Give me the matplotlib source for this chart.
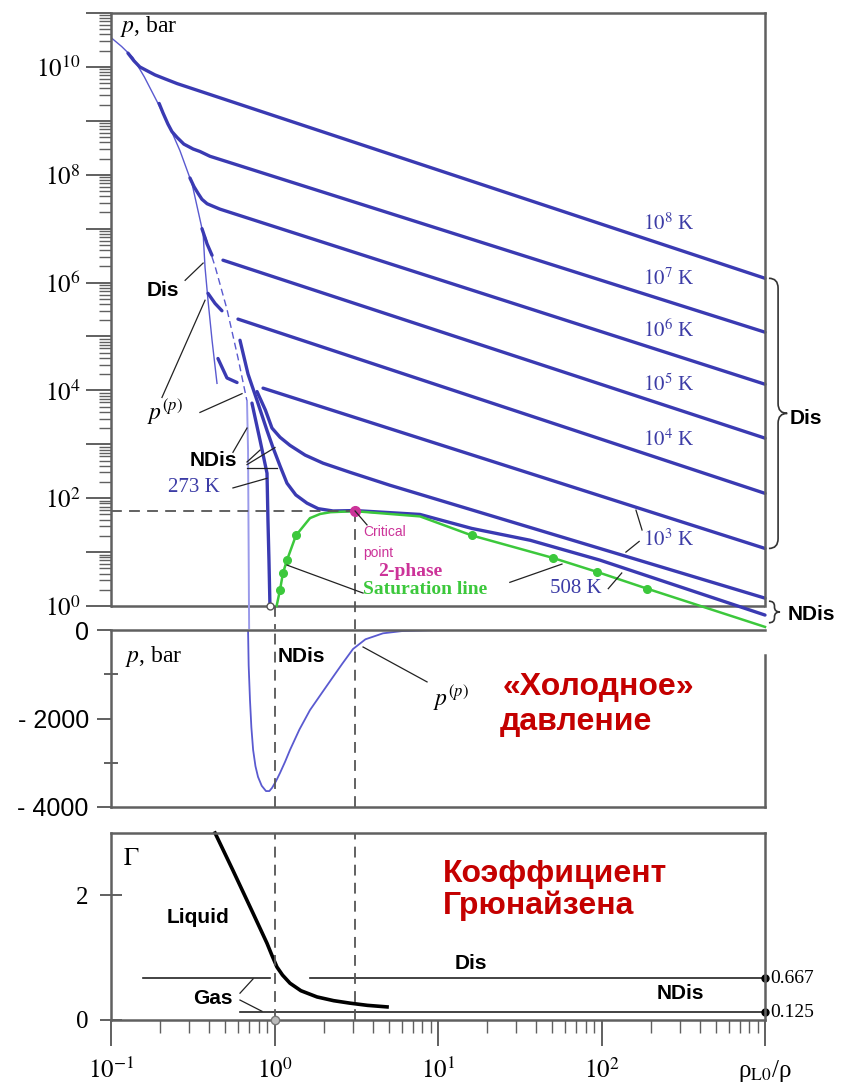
import numpy as np
import matplotlib
matplotlib.use("Agg")
import matplotlib.pyplot as plt
from matplotlib.path import Path
from matplotlib.patches import PathPatch
import matplotlib.transforms as mtransforms
from matplotlib.ticker import FixedLocator, FuncFormatter, NullFormatter

plt.rcParams["mathtext.fontset"] = "stix"
plt.rcParams["font.family"] = ["Liberation Sans", "DejaVu Sans"]
SERIF = ["Liberation Serif", "DejaVu Serif"]

BLUE = "#3a3ab2"      # isotherms
THIN = "#5a5ad0"      # cold pressure curve
LIGHT = "#9a9aea"
GREEN = "#3cc83c"
MAGENTA = "#cc3399"
RED = "#c40000"
AXC = "#606060"
TXTBLUE = "#3c3ca6"

# ---- values: v = rho_L0/rho, p in bar ----
# isotherms (nan = gap in the drawn line)
iso_1e8_v = [0.127, 0.138, 0.150, 0.166, 0.186, 0.214, 0.254, 1000]
iso_1e8_p = [1.8e10, 1.3e10, 1.0e10, 8.5e9, 7.1e9, 6.0e9, 4.9e9, 1.2e6]
iso_1e7_v = [0.197, 0.208, 0.223, 0.236, 0.254, 0.279, 0.318, 0.350, 0.403, 1000]
iso_1e7_p = [2.1e9, 1.4e9, 8.7e8, 6.3e8, 4.9e8, 3.7e8, 3.0e8, 2.7e8, 2.2e8, 1.2e5]
iso_1e6_v = [0.304, 0.322, 0.341, 0.360, 0.387, 0.421, 0.464, 1000]
iso_1e6_p = [8.7e7, 6.0e7, 4.5e7, 3.5e7, 2.9e7, 2.6e7, 2.3e7, 1.3e4]
iso_1e5_v = [0.360, 0.387, 0.415, np.nan, 0.484, 1000]
iso_1e5_p = [1.0e7, 5.2e6, 3.2e6, np.nan, 2.6e6, 1.3e3]
iso_1e4_v = [0.392, 0.433, 0.477, np.nan, 0.598, 1000]
iso_1e4_p = [6.3e5, 4.1e5, 3.0e5, np.nan, 2.1e5, 123]
iso_1e3_v = [0.451, 0.512, 0.590, np.nan, 0.851, 1000]
iso_1e3_p = [3.9e4, 1.7e4, 1.4e4, np.nan, 1.1e4, 11.7]
iso_1e3n_v = [0.782, 0.880, 0.965, 1.081, 1.244, 1.54, 1.98, 2.90, 5.08, 1000]
iso_1e3n_p = [9.5e3, 4.3e3, 2.0e3, 1.35e3, 955, 630, 447, 302, 174, 1.4]
iso_508_v = [0.615, 0.689, 0.782, 0.900, 0.979, 1.08, 1.192, 1.35, 1.58, 1.85, 2.28, 3.11,
             7.76, 16.1, 36.6, 97.9, 1000]
iso_508_p = [8.5e4, 2.0e4, 6.5e3, 1.8e3, 870, 400, 190, 115, 81, 64, 58, 59,
             50, 27.5, 16.6, 7.1, 0.68]
iso_273_v = [0.728, 0.815, 0.900, 0.912, 0.925, 0.938]
iso_273_p = [5.8e3, 1.2e3, 290, 39, 7.1, 1.0]

# saturation line and its points
sat_v = [1.030, 1.081, 1.127, 1.192, 1.353, 1.648, 1.9, 2.2, 3.11, 7.76, 16.1, 50.5, 93.8, 190, 1000]
sat_p = [1.0, 2.0, 4.1, 7.1, 20.4, 42.7, 51, 55, 57.5, 46, 20.4, 7.8, 4.3, 2.1, 0.41]
sat_pts_v = [1.081, 1.127, 1.192, 1.353, 16.1, 50.5, 93.8, 190]
sat_pts_p = [2.0, 4.1, 7.1, 20.4, 20.4, 7.8, 4.3, 2.1]
crit_v, crit_p = 3.11, 58

# cold pressure p(c): dissociated branch, non-dissociated branch
cold_dis_v = [0.100, 0.116, 0.136, 0.160, 0.191, 0.225, 0.264, 0.313, 0.366, 0.376, 0.392, 0.415, 0.445]
cold_dis_p = [3.5e10, 2.4e10, 1.5e10, 6.5e9, 2.3e9, 8.5e8, 2.8e8, 6.8e7, 8.1e6, 1.9e6, 4.7e5, 8.5e4, 1.35e4]
cold_nd_v = [0.376, 0.433, 0.512, 0.598, 0.679]
cold_nd_p = [7.4e6, 2.0e6, 3.2e5, 4.0e4, 6.3e3]
cold_nd2_v = [0.679, 0.689, 0.698, 0.700]
cold_nd2_p = [6.3e3, 780, 1.0, 0.3]

# cold pressure on a linear scale
cold_lin_v = [0.689, 0.695, 0.708, 0.722, 0.740, 0.765, 0.793, 0.835, 0.887, 0.930, 0.965, 1.02,
              1.081, 1.16, 1.244, 1.42, 1.648, 1.95, 2.28, 2.6, 3.02, 3.6, 4.61, 6.0, 9.3, 20, 1000]
cold_lin_p = [0, -800, -1580, -2200, -2710, -3080, -3320, -3520, -3640, -3640, -3570, -3420,
              -3230, -2980, -2710, -2250, -1810, -1420, -1060, -760, -430, -210, -75, -25, -5, 0, 0]

# Grueneisen coefficient
gam_v = [0.433, 0.557, 0.740, 0.900, 0.96, 1.035, 1.12, 1.244, 1.45, 1.82, 2.3, 2.90, 3.7, 4.88]
gam = [3.0, 2.40, 1.71, 1.23, 1.05, 0.85, 0.72, 0.59, 0.47, 0.37, 0.31, 0.27, 0.235, 0.21]
gam_dis = 0.667
gam_ndis = 0.125
gam_dis_v = [[0.157, 0.938], [1.648, 1000]]
gam_ndis_v = [0.615, 1000]

iso_labels = [r"$10^{8}$ K", r"$10^{7}$ K", r"$10^{6}$ K", r"$10^{5}$ K", r"$10^{4}$ K", r"$10^{3}$ K"]
iso_label_p = [1.23e7, 1.17e6, 1.29e5, 1.23e4, 1.17e3, 16.6]

# ---- figure ----
W, H = 846, 1088
fig = plt.figure(figsize=(W / 100, H / 100), dpi=100)


def box(l, t, r, b):
    return [l / W, 1 - b / H, (r - l) / W, (b - t) / H]


ax1 = fig.add_axes(box(111, 13, 765, 629))
ax2 = fig.add_axes(box(111, 630, 765, 807))
ax3 = fig.add_axes(box(111, 833, 765, 1020))

for ax in (ax1, ax2, ax3):
    ax.set_xscale("log")
    ax.set_xlim(0.1, 1000)
    for s in ax.spines.values():
        s.set_color(AXC)
        s.set_linewidth(1.8)
    ax.tick_params(which="both", color=AXC, width=1.4, labelsize=18)
    ax.patch.set_alpha(0)

DASH = dict(color="#555555", lw=1.3, ls=(0, (6, 4)))


def lead(ax, v0, p0, v1, p1):
    ax.plot([v0, v1], [p0, p1], color="#222222", lw=0.9, clip_on=False)


# ---- top panel: isotherms ----
ymin1 = 10 ** -0.426
ax1.set_yscale("log")
ax1.set_ylim(ymin1, 1e11)
ax1.spines["bottom"].set_visible(False)
ax1.spines["left"].set_bounds(1, 1e11)
ax1.spines["right"].set_bounds(1, 1e11)
ax1.yaxis.set_major_locator(FixedLocator([10.0 ** k for k in range(0, 12)]))
ax1.yaxis.set_minor_locator(FixedLocator([m * 10.0 ** k for k in range(0, 11) for m in range(2, 10)]))
ax1.yaxis.set_major_formatter(FuncFormatter(
    lambda v, pos: r"$10^{%d}$" % round(np.log10(v)) if round(np.log10(v)) % 2 == 0 else ""))
ax1.yaxis.set_minor_formatter(NullFormatter())
ax1.tick_params(axis="y", which="major", length=18, pad=4)
ax1.tick_params(axis="y", which="minor", length=9, width=1.0)
ax1.tick_params(axis="x", which="both", bottom=False, labelbottom=False)
ax1.axhline(1, color=AXC, lw=1.8)

ax1.plot(cold_dis_v, cold_dis_p, color=THIN, lw=1.0)
ax1.plot(cold_nd_v, cold_nd_p, color=THIN, lw=1.0, ls=(0, (5, 3)))
ax1.plot(cold_nd2_v, cold_nd2_p, color=LIGHT, lw=1.4)

for v, p in [(iso_1e8_v, iso_1e8_p), (iso_1e7_v, iso_1e7_p), (iso_1e6_v, iso_1e6_p),
             (iso_1e5_v, iso_1e5_p), (iso_1e4_v, iso_1e4_p), (iso_1e3_v, iso_1e3_p),
             (iso_1e3n_v, iso_1e3n_p), (iso_508_v, iso_508_p), (iso_273_v, iso_273_p)]:
    ax1.plot(v, p, color=BLUE, lw=2.4, solid_capstyle="round", solid_joinstyle="round",
             clip_on=False)

ax1.plot(sat_v, sat_p, color=GREEN, lw=1.8, clip_on=False, solid_joinstyle="round")
ax1.plot(sat_pts_v, sat_pts_p, "o", color=GREEN, ms=5.5)
ax1.plot([0.1, crit_v], [crit_p, crit_p], **DASH)
ax1.plot([crit_v, crit_v], [crit_p, ymin1], **DASH)
ax1.plot([1, 1], [1, ymin1], **DASH)
ax1.plot([crit_v], [crit_p], "o", color=MAGENTA, ms=7)
ax1.plot([0.938], [1], "o", mfc="white", mec="#555555", ms=5)

for lab, p in zip(iso_labels, iso_label_p):
    ax1.text(179.6, p, lab, family=SERIF, fontsize=15, color=TXTBLUE, va="center")
ax1.text(48.4, 2.1, "508 K", family=SERIF, fontsize=15, color=TXTBLUE, va="center")
ax1.text(0.223, 155, "273 K", family=SERIF, fontsize=15, color=TXTBLUE, va="center")
ax1.text(0.1135, 5.5e10, r"$p$, bar", family=SERIF, fontsize=17, va="center")
ax1.text(0.166, 7.1e5, "Dis", fontsize=15, fontweight="bold", va="center")
ax1.text(0.166, 3.9e3, r"$p^{(p)}$", family=SERIF, fontsize=17, va="center")
ax1.text(0.304, 500, "NDis", fontsize=15, fontweight="bold", va="center")
ax1.text(3.48, 23.4, "Critical", fontsize=10, color=MAGENTA, va="center")
ax1.text(3.48, 9.5, "point", fontsize=10, color=MAGENTA, va="center")
ax1.text(4.3, 4.3, "2-phase", family=SERIF, fontsize=14, fontweight="bold", color=MAGENTA, va="center")
ax1.text(3.48, 2.05, "Saturation line", family=SERIF, fontsize=14, fontweight="bold",
         color=GREEN, va="center")

lead(ax1, 0.284, 1.1e6, 0.366, 2.3e6)          # Dis
lead(ax1, 0.205, 7.4e3, 0.376, 4.7e5)          # p(c) dis
lead(ax1, 0.350, 3.9e3, 0.633, 8.7e3)          # p(c) ndis
lead(ax1, 0.557, 710, 0.679, 2.0e3)            # NDis
lead(ax1, 0.679, 470, 0.815, 780)
lead(ax1, 0.679, 420, 1.007, 870)
lead(ax1, 0.679, 363, 1.035, 363)
lead(ax1, 0.557, 155, 0.900, 234)              # 273 K
lead(ax1, crit_v, crit_p, 3.68, 32)            # critical point
lead(ax1, 3.48, 1.74, 1.192, 5.75)             # saturation line
lead(ax1, 27.5, 2.75, 57.3, 6.0)
lead(ax1, 110, 2.1, 133, 4.1)                  # 508 K
lead(ax1, 177, 25.7, 162.5, 60)                # 10^3 K
lead(ax1, 170, 15.8, 141, 10)


def brace(ax, x, y0, y1, w, h):
    m = (y0 + y1) / 2
    xm = x + w / 2
    verts = [(x, y1), (xm, y1), (xm, y1 - h), (xm, m + h), (xm, m), (x + w, m),
             (xm, m), (xm, m - h), (xm, y0 + h), (xm, y0), (x, y0)]
    codes = [Path.MOVETO, Path.CURVE3, Path.CURVE3, Path.LINETO, Path.CURVE3, Path.CURVE3,
             Path.CURVE3, Path.CURVE3, Path.LINETO, Path.CURVE3, Path.CURVE3]
    ax.add_patch(PathPatch(Path(verts, codes), transform=ax.transAxes, fill=False,
                           lw=1.2, ec="#333333", clip_on=False))


def yfrac(ax, p):
    return ax.transAxes.inverted().transform(ax.transData.transform((1, p)))[1]


brace(ax1, 1.006, yfrac(ax1, iso_1e3_p[-1]), yfrac(ax1, iso_1e8_p[-1]), 0.028, 0.016)
brace(ax1, 1.006, yfrac(ax1, 0.49), yfrac(ax1, 1.23), 0.017, 0.008)
tr1 = mtransforms.blended_transform_factory(ax1.transAxes, ax1.transData)
ax1.text(1.038, 10 ** 3.48, "Dis", transform=tr1, fontsize=15, fontweight="bold", va="center")
ax1.text(1.035, 10 ** -0.15, "NDis", transform=tr1, fontsize=15, fontweight="bold", va="center")

# ---- middle panel: cold pressure ----
ax2.set_ylim(-4000, 0)
ax2.spines["right"].set_bounds(-4000, -560)
ax2.yaxis.set_major_locator(FixedLocator([0, -2000, -4000]))
ax2.yaxis.set_major_formatter(FuncFormatter(lambda v, pos: "0" if v == 0 else "- %d" % abs(v)))
ax2.yaxis.set_minor_locator(FixedLocator([-1000, -3000]))
ax2.tick_params(axis="y", which="major", length=10, pad=6, labelsize=18)
ax2.tick_params(axis="y", which="minor", direction="inout", length=10)
ax2.tick_params(axis="x", which="both", bottom=False, labelbottom=False)
ax2.plot(cold_lin_v, cold_lin_p, color=THIN, lw=1.3, solid_joinstyle="round")
ax2.axvline(1, **DASH)
ax2.axvline(crit_v, **DASH)
ax2.text(0.122, -600, r"$p$, bar", family=SERIF, fontsize=17, va="center")
ax2.text(1.05, -600, "NDis", fontsize=15, fontweight="bold", va="center")
ax2.text(9.3, -1550, r"$p^{(p)}$", family=SERIF, fontsize=17, va="center")
lead(ax2, 3.48, -384, 8.57, -1173)
ax2.text(25.0, -1290, "«Холодное»", fontsize=23, fontweight="bold", color=RED, va="center")
ax2.text(23.9, -2080, "давление", fontsize=23, fontweight="bold", color=RED, va="center")

# ---- bottom panel: Grueneisen coefficient ----
ax3.set_ylim(0, 3)
ax3.yaxis.set_major_locator(FixedLocator([0, 2]))
ax3.yaxis.set_major_formatter(FuncFormatter(lambda v, pos: "%d" % v))
ax3.tick_params(axis="y", direction="inout", length=16, pad=8)
ax3.tick_params(axis="x", which="major", length=19, pad=8)
ax3.tick_params(axis="x", which="minor", length=9, width=1.0)
ax3.xaxis.set_major_locator(FixedLocator([0.1, 1, 10, 100, 1000]))
ax3.xaxis.set_major_formatter(FuncFormatter(
    lambda v, pos: r"ρ$_{\mathrm{L0}}$/ρ" if v >= 1000 else r"$10^{%d}$" % round(np.log10(v))))
ax3.xaxis.set_minor_locator(FixedLocator([m * 10.0 ** k for k in range(-1, 3) for m in range(2, 10)]))
ax3.xaxis.set_minor_formatter(NullFormatter())
for t in ax3.get_yticklabels() + ax3.get_xticklabels():
    t.set_family(SERIF)

ax3.plot(gam_v, gam, color="black", lw=2.6, clip_on=False, solid_joinstyle="round")
for seg in gam_dis_v:
    ax3.plot(seg, [gam_dis, gam_dis], color="#222222", lw=1.2)
ax3.plot(gam_ndis_v, [gam_ndis, gam_ndis], color="#222222", lw=1.2)
ax3.plot([1000, 1000], [gam_dis, gam_ndis], "o", color="black", ms=5, clip_on=False)
ax3.plot([1], [0], "o", mfc="#bbbbbb", mec="#777777", ms=6, clip_on=False, zorder=5)
ax3.axvline(1, **DASH)
ax3.axvline(crit_v, **DASH)

tr3 = mtransforms.blended_transform_factory(ax3.transAxes, ax3.transData)
ax3.text(1.008, gam_dis, "%.3f" % gam_dis, transform=tr3, family=SERIF, fontsize=14, va="center")
ax3.text(1.008, gam_ndis, "%.3f" % gam_ndis, transform=tr3, family=SERIF, fontsize=14, va="center")
ax3.text(0.118, 2.59, r"$\Gamma$", family=SERIF, fontsize=18, va="center")
ax3.text(0.220, 1.65, "Liquid", fontsize=15, fontweight="bold", va="center")
ax3.text(0.318, 0.35, "Gas", fontsize=15, fontweight="bold", va="center")
lead(ax3, 0.615, 0.43, 0.740, 0.66)
lead(ax3, 0.615, 0.32, 0.838, 0.14)
ax3.text(12.7, 0.91, "Dis", fontsize=15, fontweight="bold", va="center")
ax3.text(218, 0.43, "NDis", fontsize=15, fontweight="bold", va="center")
ax3.text(10.7, 2.35, "Коэффициент", fontsize=23, fontweight="bold", color=RED, va="center")
ax3.text(10.7, 1.84, "Грюнайзена", fontsize=23, fontweight="bold", color=RED, va="center")

fig.savefig("out.png", dpi=100)
